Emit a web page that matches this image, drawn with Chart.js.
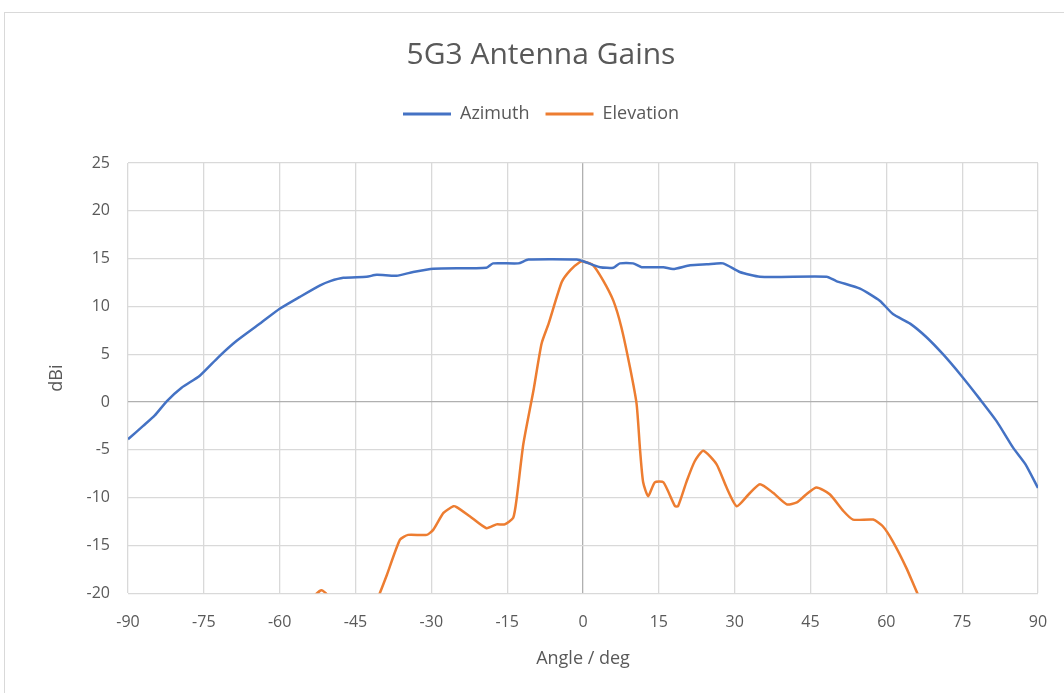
<!DOCTYPE html>
<html>
<head>
<meta charset="utf-8">
<script src="https://cdn.jsdelivr.net/npm/chart.js@4/dist/chart.umd.min.js"></script>
<style>
  html, body { margin: 0; padding: 0; background: #fff; overflow: hidden; }
  #wrap { position: relative; width: 1064px; height: 693px; overflow: hidden; }
  #frame { position: absolute; left: 4px; top: 12px; width: 1100px; height: 800px; border: 1px solid #d9d9d9; pointer-events: none; }
  canvas { position: absolute; left: 0; top: 0; }
</style>
</head>
<body>
<div id="wrap">
  <div id="frame"></div>
  <canvas id="gainChart" width="1082" height="693"></canvas>
</div>
<script>
// Azimuth cut (angle in deg, gain in dBi)
var azAngle = [-90, -87, -84.7, -82.3, -79.4, -75.8, -72.1, -68.5, -63.9, -60, -56, -52, -50, -47.4, -42.8, -40.8, -36.9, -33.6, -29.6, -19.1, -17.8, -12.8, -10.8, -1.2, 0.4, 3.4, 6, 7.3, 9.9, 11.6, 15.9, 17.8, 21.2, 24.5, 27.7, 31, 35, 48.2, 50.1, 54.8, 58.7, 61.3, 64.7, 67.9, 71.2, 74.6, 78.5, 81.8, 85.1, 87.5, 90];
var azGain = [-3.9, -2.5, -1.4, 0.1, 1.5, 2.75, 4.7, 6.4, 8.2, 9.75, 11.0, 12.2, 12.65, 13.0, 13.1, 13.3, 13.2, 13.6, 13.95, 14.05, 14.5, 14.5, 14.9, 14.9, 14.65, 14.1, 14.05, 14.5, 14.5, 14.1, 14.1, 13.9, 14.3, 14.4, 14.5, 13.6, 13.1, 13.1, 12.65, 11.85, 10.6, 9.2, 8.2, 6.8, 5.0, 2.9, 0.3, -2.0, -4.8, -6.5, -9.0];

// Elevation cut (values below -20 fall outside the axis and get clipped)
var elAngle = [-90, -70, -58, -54, -52.8, -51.7, -50.7, -49, -45, -42, -40.2, -38.8, -36.2, -34.6, -30.9, -29.6, -27.6, -25.6, -25, -22.4, -19.1, -17.1, -15.5, -13.8, -13.1, -11.8, -9.8, -8.2, -6.8, -4.2, -2.5, -0.6, 0.1, 2, 4, 6, 7.6, 9.3, 10.6, 11.3, 11.9, 12.9, 14.2, 15.9, 18.2, 18.8, 20.5, 22.1, 23.8, 26.4, 28.4, 30.4, 32.7, 35, 37.6, 40.3, 42.3, 44.2, 46.2, 48.8, 51.5, 53.4, 57.4, 59.3, 61.3, 64, 66.3, 70, 80, 90];
var elGain = [-30, -27, -23, -21, -20.1, -19.7, -20.1, -21.5, -23, -22, -20, -18.1, -14.4, -13.9, -13.9, -13.35, -11.6, -10.9, -11, -11.95, -13.2, -12.8, -12.8, -12.1, -10, -4.4, 1.2, 6.1, 8.2, 12.55, 13.8, 14.65, 14.7, 14.3, 12.7, 10.6, 7.8, 3.6, -0.2, -5.1, -8.4, -9.85, -8.4, -8.4, -10.9, -10.9, -8.3, -6.2, -5.1, -6.5, -8.95, -10.9, -9.7, -8.6, -9.5, -10.7, -10.5, -9.65, -8.95, -9.65, -11.4, -12.3, -12.3, -13, -14.6, -17.4, -20.2, -24, -28, -32];

var xTicks = [-90, 90, 15];
var yTicks = [-20, 25, 5];

function toPoints(xs, ys) {
  return xs.map(function (x, i) { return { x: x, y: ys[i] }; });
}

var textColor = '#595959';
var fontFamily = '"Open Sans", Lato, sans-serif';

function gridColor(ctx) {
  return ctx.tick && ctx.tick.value === 0 ? '#b0b0b0' : '#d9d9d9';
}

// extra room under the legend before the plot area
var legendGap = {
  id: 'legendGap',
  beforeLayout: function (chart) {
    var lg = chart.legend;
    if (lg && !lg._gapped) {
      var fit = lg.fit;
      lg.fit = function () {
        fit.call(this);
        this.height += 30;
      };
      lg._gapped = true;
    }
  },
};

new Chart(document.getElementById('gainChart'), {
  type: 'line',
  data: {
    datasets: [
      {
        label: 'Azimuth',
        data: toPoints(azAngle, azGain),
        borderColor: '#4472C4',
        backgroundColor: '#4472C4',
        borderWidth: 2.5,
        pointRadius: 0,
        tension: 0.2,
      },
      {
        label: 'Elevation',
        data: toPoints(elAngle, elGain),
        borderColor: '#ED7D31',
        backgroundColor: '#ED7D31',
        borderWidth: 2.5,
        pointRadius: 0,
        tension: 0.2,
      },
    ],
  },
  plugins: [legendGap],
  options: {
    responsive: false,
    animation: false,
    layout: { padding: { left: 0, right: 0, top: 0, bottom: 19 } },
    plugins: {
      title: {
        display: true,
        text: '5G3 Antenna Gains',
        color: textColor,
        font: { family: fontFamily, size: 30, weight: 'normal' },
        padding: { top: 37, bottom: 16 },
      },
      legend: {
        display: true,
        labels: {
          color: textColor,
          font: { family: fontFamily, size: 18 },
          boxWidth: 48,
          boxHeight: 3,
          padding: 16,
          generateLabels: function (chart) {
            return Chart.defaults.plugins.legend.labels.generateLabels(chart).map(function (l) {
              l.lineWidth = 0;
              return l;
            });
          },
        },
      },
      tooltip: { enabled: false },
    },
    scales: {
      x: {
        type: 'linear',
        min: xTicks[0],
        max: xTicks[1],
        ticks: { stepSize: xTicks[2], color: textColor, font: { family: fontFamily, size: 16 }, padding: 20 },
        grid: { color: gridColor, lineWidth: 1.3, drawTicks: false },
        border: { display: false },
        title: { display: true, text: 'Angle / deg', color: textColor, font: { family: fontFamily, size: 18 }, padding: { top: -4 } },
      },
      y: {
        min: yTicks[0],
        max: yTicks[1],
        ticks: { stepSize: yTicks[2], color: textColor, font: { family: fontFamily, size: 16 }, padding: 18 },
        grid: { color: gridColor, lineWidth: 1.3, drawTicks: false },
        border: { display: false },
        title: { display: true, text: 'dBi', color: textColor, font: { family: fontFamily, size: 18 }, padding: { top: 46, bottom: 4 } },
        afterFit: function (scale) { scale.width = 128; },
      },
      // empty spacer on the right so the plot ends where the reference does
      yRight: {
        position: 'right',
        min: yTicks[0],
        max: yTicks[1],
        ticks: { display: false },
        grid: { display: false },
        border: { display: false },
        afterFit: function (scale) { scale.width = 44; },
      },
    },
  },
});
</script>
</body>
</html>
